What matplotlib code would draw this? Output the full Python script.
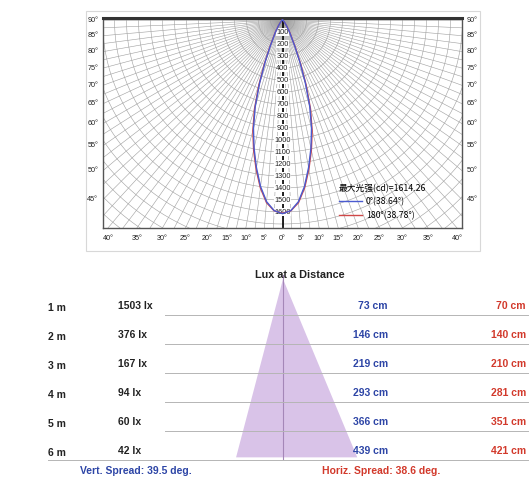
import numpy as np
import matplotlib.pyplot as plt
from matplotlib.transforms import blended_transform_factory

# polar photometric curve (angle from nadir in deg, intensity in cd)
angles = [0, 2.5, 5, 7.5, 10, 12.5, 15, 17.5, 20, 22.5, 25, 30, 35, 40, 50, 60, 90]
c0_cd = [1614, 1590, 1520, 1400, 1250, 1095, 935, 755, 555, 375, 245, 118, 58, 28, 10, 4, 0]
c180_cd = [1610, 1592, 1528, 1412, 1265, 1112, 955, 775, 575, 392, 258, 125, 62, 30, 11, 4, 0]
c0_label = "0°(38.64°)"
c180_label = "180°(38.78°)"
max_label = "最大光强(cd)=1614.26"
ring_labels = list(range(100, 1700, 100))
bottom_angles = [40, 35, 30, 25, 20, 15, 10, 5, 0, 5, 10, 15, 20, 25, 30, 35, 40]
side_angles = [90, 85, 80, 75, 70, 65, 60, 55, 50, 45]

# lux at a distance
dist_m = [1, 2, 3, 4, 5, 6]
lux = [1503, 376, 167, 94, 60, 42]
vert_cm = [73, 146, 219, 293, 366, 439]
horiz_cm = [70, 140, 210, 281, 351, 421]
vert_spread = 39.5
horiz_spread = 38.6
beam_base = [-170, 269]  # triangle base edges (cm) as drawn at 6 m

W, H = 531, 483
BLUE = "#2d45a6"
RED = "#d2392b"


def box(x0, y0, x1, y1):
    return [x0 / W, 1 - y1 / H, (x1 - x0) / W, (y1 - y0) / H]


fig = plt.figure(figsize=(W / 100, H / 100), dpi=100)
fig.patch.set_facecolor("white")

# background / frame around top image
bg = fig.add_axes([0, 0, 1, 1], zorder=-5)
bg.set_xlim(0, W)
bg.set_ylim(H, 0)
bg.axis("off")
bg.add_patch(plt.Rectangle((86, 11), 394, 240, fill=False, ec="#d8d8d8", lw=0.8))

# ---------------- polar diagram ----------------
ax = fig.add_axes(box(103, 18, 462, 228))
s = 0.12  # px per cd
xl = 179.5 / s
yb = -208 / s
ax.set_xlim(-xl, xl)
ax.set_ylim(yb, 2 / s)
ax.set_xticks([])
ax.set_yticks([])
for sp in ax.spines.values():
    sp.set_color("#555555")
    sp.set_linewidth(1.0)
ax.spines["top"].set_linewidth(2.2)
ax.spines["top"].set_color("#333333")

t = np.linspace(0, 2 * np.pi, 721)
for r in range(100, 3100, 100):
    ax.plot(r * np.cos(t), r * np.sin(t), color="#a2a2a2", lw=0.42, zorder=1)
for a in np.arange(-90, 90.1, 2.5):
    th = np.radians(a)
    ax.plot([0, 4000 * np.sin(th)], [0, -4000 * np.cos(th)], color="#a2a2a2", lw=0.42, zorder=1)
ax.plot([0, 0], [0, yb], color="black", lw=1.2, zorder=2)

for v in ring_labels:
    ax.text(0, -v, str(v), fontsize=5.3, ha="center", va="center", family="Liberation Sans",
            color="#222222", zorder=3,
            bbox=dict(boxstyle="square,pad=0.05", fc="white", ec="none"))


def curve(cd):
    a = np.radians(np.array(angles, dtype=float))
    a = np.concatenate([-a[::-1], a[1:]])
    r = np.concatenate([np.array(cd)[::-1], np.array(cd)[1:]])
    return r * np.sin(a), -r * np.cos(a)


x0, y0 = curve(c0_cd)
x1, y1 = curve(c180_cd)
ax.plot(x1, y1, color="#d04848", lw=1.0, label=c180_label, zorder=4)
ax.plot(x0, y0, color="#4a5bd0", lw=1.0, label=c0_label, zorder=5)
h, l = ax.get_legend_handles_labels()
leg = ax.legend(h[::-1], l[::-1], title=max_label, loc="upper left", bbox_to_anchor=(0.64, 0.24),
                frameon=False, handlelength=2.6, labelspacing=0.5, borderpad=0.2,
                handletextpad=0.5,
                prop={"family": ["Noto Sans CJK SC", "DejaVu Sans"], "size": 6.3})
leg.get_title().set_family(["Noto Sans CJK SC", "DejaVu Sans"])
leg.get_title().set_fontsize(6.3)
leg._legend_box.align = "left"
leg.set_zorder(6)

for i, a in enumerate(bottom_angles):
    sign = -1 if i < 8 else 1
    xa = sign * (-yb) * np.tan(np.radians(a))
    ax.text(xa, yb - 85, f"{a}°", fontsize=5.2, ha="center", va="center",
            family="Liberation Sans", color="#222222", clip_on=False)
for a in side_angles:
    ya = -xl / np.tan(np.radians(a)) if a < 90 else 0
    ax.text(-xl - 40, ya, f"{a}°", fontsize=5.2, ha="right", va="center",
            family="Liberation Sans", color="#222222", clip_on=False)
    ax.text(xl + 40, ya, f"{a}°", fontsize=5.2, ha="left", va="center",
            family="Liberation Sans", color="#222222", clip_on=False)

# ---------------- lux at a distance ----------------
axb = fig.add_axes(box(0, 265, W, H))
cm_px = 0.276
axb.set_xlim(-283 / cm_px, (W - 283) / cm_px)
axb.set_ylim((483 - 308) / 29 + 1, (265 - 308) / 29 + 1)
axb.axis("off")
tr = blended_transform_factory(axb.transAxes, axb.transData)

axb.fill([0, beam_base[0], beam_base[1]], [0, 6.15, 6.15], color="#d9c3e8", lw=0, zorder=1)
axb.plot([0, 0], [-0.15, 6.2], color="#a587b8", lw=0.8, zorder=2)

axb.text(300 / W, -0.14, "Lux at a Distance", transform=tr, ha="center", va="center",
         fontsize=7.8, fontweight="bold", family="Liberation Sans", color="#222222")

fk = dict(fontsize=7.5, fontweight="bold", family="Liberation Sans", va="center", transform=tr)
for d, lx, vc, hc in zip(dist_m, lux, vert_cm, horiz_cm):
    axb.text(48 / W, d, f"{d} m", ha="left", color="#222222", **fk)
    axb.text(118 / W, d - 0.08, f"{lx} lx", ha="left", color="#222222", **fk)
    axb.text(388 / W, d - 0.08, f"{vc} cm", ha="right", color=BLUE, **fk)
    axb.text(526 / W, d - 0.08, f"{hc} cm", ha="right", color=RED, **fk)
    x_start = 48 / W if d == dist_m[-1] else 165 / W
    axb.axhline(d + 0.24, x_start, 528 / W, color="#b5b5b5", lw=0.7, zorder=3)

axb.text(80 / W, 6.62, f"Vert. Spread: {vert_spread} deg.", ha="left", color=BLUE, **fk)
axb.text(322 / W, 6.62, f"Horiz. Spread: {horiz_spread} deg.", ha="left", color=RED, **fk)

fig.savefig("out.png", dpi=100)
